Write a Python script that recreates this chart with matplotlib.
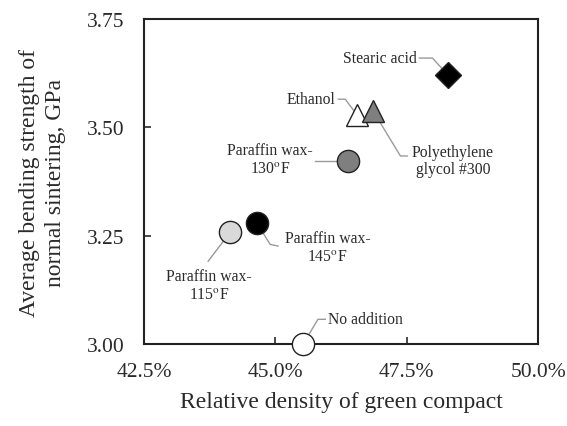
import matplotlib.pyplot as plt
from matplotlib.ticker import FuncFormatter

plt.rcParams['font.family'] = ['Liberation Serif', 'DejaVu Serif']
plt.rcParams['mathtext.fontset'] = 'stix'

# relative density (%) and average bending strength (GPa)
names = ["Stearic acid", "Ethanol", "Polyethylene\nglycol #300",
         "Paraffin wax-\n130$^{\\mathrm{o}}$F", "Paraffin wax-\n145$^{\\mathrm{o}}$F",
         "Paraffin wax-\n115$^{\\mathrm{o}}$F", "No addition"]
density = [48.29, 46.56, 46.86, 46.39, 44.65, 44.14, 45.53]
strength = [3.620, 3.528, 3.538, 3.422, 3.279, 3.258, 3.000]
markers = ['D', '^', '^', 'o', 'o', 'o', 'o']
faces = ['black', 'white', '#7f7f7f', '#7f7f7f', 'black', '#d9d9d9', 'white']
sizes = [13.5, 16, 16, 16, 16, 16, 16]

# label placement: text anchor, alignment, leader line points (text end -> elbow)
text_xy = [(47.70, 3.660), (46.14, 3.565), (47.60, 3.424), (44.90, 3.427),
           (45.99, 3.224), (43.74, 3.136), (46.00, 3.057)]
text_ha = ['right', 'right', 'left', 'center', 'center', 'center', 'left']
leaders = [[(47.74, 3.660), (47.99, 3.660)],
           [(46.20, 3.565), (46.33, 3.565)],
           [(47.51, 3.434), (47.38, 3.434)],
           [(45.76, 3.422)],
           [(45.05, 3.226), (44.90, 3.230)],
           [(43.72, 3.191)],
           [(45.95, 3.057), (45.81, 3.057)]]

fig = plt.figure(figsize=(5.67, 4.27), dpi=100)
ax = fig.add_axes([0.254, 0.192, 0.695, 0.761])

for i in range(len(names)):
    xs = [p[0] for p in leaders[i]] + [density[i]]
    ys = [p[1] for p in leaders[i]] + [strength[i]]
    ax.plot(xs, ys, color='#9a9a9a', lw=1.0, zorder=2, clip_on=False)
    ax.text(text_xy[i][0], text_xy[i][1], names[i], fontsize=11.3,
            ha=text_ha[i], va='center', multialignment='center',
            color='#2a2a2a', linespacing=1.1)

for i in range(len(names)):
    ax.plot(density[i], strength[i], marker=markers[i], markersize=sizes[i],
            markerfacecolor=faces[i], markeredgecolor='#222222',
            markeredgewidth=1.0, linestyle='none', clip_on=False, zorder=5)

ax.set_xlim(42.5, 50.0)
ax.set_ylim(3.0, 3.75)
ax.set_xticks([42.5, 45.0, 47.5, 50.0])
ax.set_yticks([3.0, 3.25, 3.5, 3.75])
ax.xaxis.set_major_formatter(FuncFormatter(lambda v, p: "%.1f%%" % v))
ax.yaxis.set_major_formatter(FuncFormatter(lambda v, p: "%.2f" % v))
ax.tick_params(direction='in', length=5, width=1.2, labelsize=15.5,
               colors='#2a2a2a')
ax.tick_params(axis='y', pad=14)
ax.tick_params(axis='x', pad=13)
for s in ax.spines.values():
    s.set_linewidth(1.5)
    s.set_color('#222222')

ax.set_xlabel("Relative density of green compact", fontsize=17,
              color='#2a2a2a', labelpad=7)
ax.set_ylabel("Average bending strength of\nnormal sintering, GPa",
              fontsize=17, color='#2a2a2a', labelpad=15, linespacing=1.3)

fig.savefig("out.png", dpi=100)
